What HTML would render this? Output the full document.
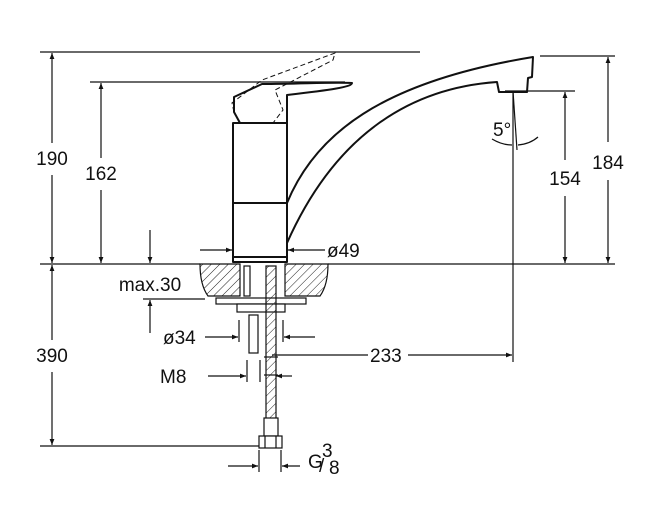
<!DOCTYPE html>
<html><head><style>
html,body{margin:0;padding:0;background:#fff;}
svg{display:block;}
text{font-family:"Liberation Sans",sans-serif;fill:#111;font-size:19px;}
</style></head><body>
<svg width="660" height="520" viewBox="0 0 660 520" xmlns="http://www.w3.org/2000/svg">
<defs>
<marker id="a" viewBox="0 0 10 10" refX="10" refY="5" markerWidth="10" markerHeight="6" orient="auto-start-reverse" markerUnits="userSpaceOnUse"><path d="M0,1 L10,5 L0,9 z" fill="#111"/></marker>
<pattern id="h" width="6" height="6" patternUnits="userSpaceOnUse" patternTransform="rotate(45)"><line x1="0" y1="0" x2="0" y2="6" stroke="#222" stroke-width="1"/></pattern>
</defs>
<g stroke="#111" stroke-width="1.2" fill="none">
<line x1="40" y1="52" x2="420" y2="52"/>
<line x1="90" y1="82" x2="345" y2="82"/>
<line x1="40" y1="264" x2="200" y2="264"/>
<line x1="328" y1="264" x2="615" y2="264"/>
<line x1="40" y1="446" x2="262" y2="446"/>
<line x1="540" y1="56" x2="615" y2="56"/>
<line x1="505" y1="91" x2="575" y2="91"/>
<line x1="143" y1="299" x2="205" y2="299"/>
<line x1="52" y1="53" x2="52" y2="143" marker-start="url(#a)"/>
<line x1="52" y1="175" x2="52" y2="263" marker-end="url(#a)"/>
<line x1="52" y1="265" x2="52" y2="340" marker-start="url(#a)"/>
<line x1="52" y1="372" x2="52" y2="445" marker-end="url(#a)"/>
<line x1="101" y1="83" x2="101" y2="158" marker-start="url(#a)"/>
<line x1="101" y1="190" x2="101" y2="263" marker-end="url(#a)"/>
<line x1="150" y1="230" x2="150" y2="263" marker-end="url(#a)"/>
<line x1="150" y1="333" x2="150" y2="300" marker-end="url(#a)"/>
<line x1="608" y1="57" x2="608" y2="142" marker-start="url(#a)"/>
<line x1="608" y1="180" x2="608" y2="263" marker-end="url(#a)"/>
<line x1="565" y1="92" x2="565" y2="160" marker-start="url(#a)"/>
<line x1="565" y1="196" x2="565" y2="263" marker-end="url(#a)"/>
<line x1="513" y1="91" x2="513" y2="362"/>
<line x1="513" y1="91" x2="517" y2="150"/>
<path d="M492,139 Q502,145 512,145"/>
<path d="M518,145 Q530,144 538,137"/>
<line x1="200" y1="250" x2="232" y2="250" marker-end="url(#a)"/>
<line x1="325" y1="250" x2="288" y2="250" marker-end="url(#a)"/>
<line x1="205" y1="337" x2="238" y2="337" marker-end="url(#a)"/>
<line x1="315" y1="337" x2="284" y2="337" marker-end="url(#a)"/>
<line x1="239" y1="320" x2="239" y2="342"/>
<line x1="283" y1="320" x2="283" y2="342"/>
<line x1="272" y1="355" x2="368" y2="355"/>
<line x1="408" y1="355" x2="512" y2="355" marker-end="url(#a)"/>
<line x1="208" y1="376" x2="246" y2="376" marker-end="url(#a)"/>
<line x1="292" y1="376" x2="276" y2="376" marker-end="url(#a)"/>
<line x1="247" y1="360" x2="247" y2="382"/>
<line x1="260" y1="360" x2="260" y2="382"/>
<line x1="228" y1="466" x2="258" y2="466" marker-end="url(#a)"/>
<line x1="300" y1="466" x2="282" y2="466" marker-end="url(#a)"/>
<line x1="259" y1="450" x2="259" y2="472"/>
<line x1="281" y1="450" x2="281" y2="472"/>
</g>
<g stroke="#111" stroke-width="2" fill="none" stroke-linejoin="round">
<rect x="233" y="123" width="54" height="139" fill="#fff"/>
<line x1="233" y1="203" x2="287" y2="203"/>
<line x1="233" y1="257" x2="287" y2="257"/>
<path d="M287,203 C315,135 380,82 533,57 L532,77 L528,78 L527,92 L499,92 L497,82 C410,88 335,135 287,243"/>
<path d="M234,97 L262,84 C300,84 330,82 352,83 C352,87 330,90 287,95 L287,123 L240,123 L234,112 Z" fill="#fff"/>
</g>
<path d="M234,112 L232,103 L262,80 L335,53 L333,60 L275,90 L283,110 L273,123" stroke="#111" stroke-width="1" stroke-dasharray="5,3" fill="none"/>
<g stroke="#111" stroke-width="1.2">
<path d="M200,264 L240,264 L240,296 L208,296 Q200,285 200,264 Z" fill="url(#h)"/>
<path d="M285,264 L328,264 Q328,285 320,296 L285,296 Z" fill="url(#h)"/>
<rect x="216" y="298" width="90" height="6" fill="#fff"/>
<rect x="237" y="304" width="48" height="8" fill="#fff"/>
<rect x="244" y="266" width="6" height="30" fill="#fff"/>
<rect x="249" y="315" width="9" height="38" fill="#fff"/>
<rect x="266" y="266" width="10" height="170" fill="url(#h)"/>
<rect x="264" y="418" width="14" height="18" fill="#fff"/>
<rect x="259" y="436" width="23" height="12" fill="#fff"/>
<line x1="265" y1="436" x2="265" y2="448"/><line x1="276" y1="436" x2="276" y2="448"/>
<line x1="264" y1="357" x2="278" y2="357"/><line x1="264" y1="375" x2="278" y2="375"/>
</g>
<text x="52" y="165" text-anchor="middle">190</text>
<text x="101" y="180" text-anchor="middle">162</text>
<text x="52" y="362" text-anchor="middle">390</text>
<text x="150" y="291" text-anchor="middle" font-size="17">max.30</text>
<text x="327" y="257">ø49</text>
<text x="163" y="344">ø34</text>
<text x="370" y="362">233</text>
<text x="160" y="383">M8</text>
<text x="308" y="468">G</text>
<text x="322" y="457" font-size="13">3</text>
<text x="319" y="472" font-size="20">/</text>
<text x="329" y="474" font-size="13">8</text>
<text x="493" y="136">5°</text>
<text x="608" y="169" text-anchor="middle">184</text>
<text x="565" y="185" text-anchor="middle">154</text>
</svg>
</body></html>
